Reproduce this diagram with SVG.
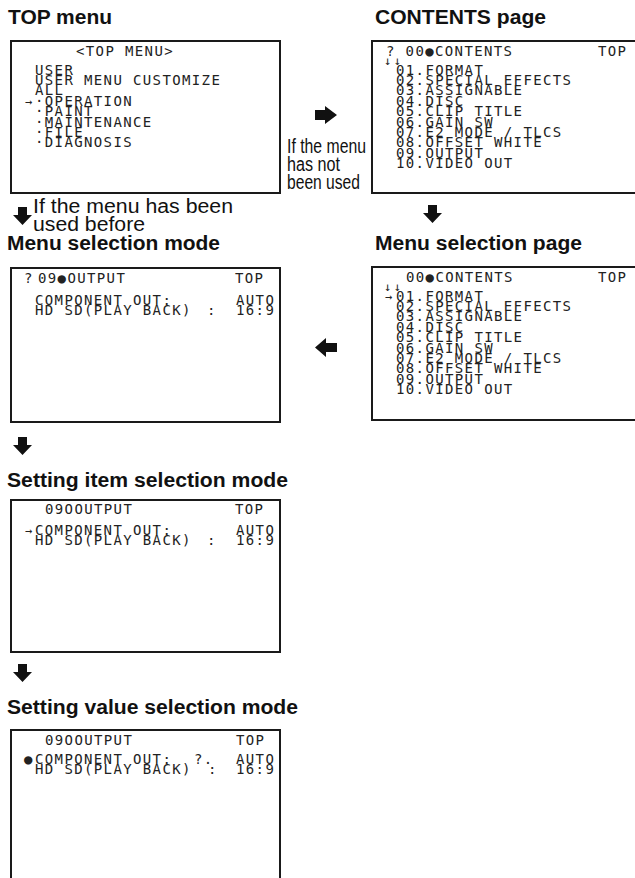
<svg xmlns="http://www.w3.org/2000/svg" xmlns:xlink="http://www.w3.org/1999/xlink" width="635" height="878" viewBox="0 0 635 878">
<style>
.bg{fill:#fff}
.box{fill:#fff;stroke:#1a1a1a;stroke-width:2}
.ttl{font-family:"Liberation Sans",Arial,sans-serif;font-weight:bold;font-size:20px;fill:#111}
.lbl{font-family:"Liberation Sans",Arial,sans-serif;font-size:19.5px;fill:#111}
.m{font-family:"DejaVu Sans Mono","Liberation Mono",monospace;font-size:14px;letter-spacing:1.37px;fill:#222}
.sm{font-family:"DejaVu Sans Mono","Liberation Mono",monospace;font-size:12px;fill:#222}
.arr{fill:#111}
</style>
<defs>
<path id="adown" d="M-4.5,0 H4.5 V8 H9.5 L0,18 L-9.5,8 H-4.5 Z"/>
</defs>
<rect class="bg" x="0" y="0" width="635" height="878"/>

<g id="top-menu">
<text class="ttl" x="8" y="24" textLength="104" lengthAdjust="spacingAndGlyphs">TOP menu</text>
<rect class="box" x="11" y="41" width="269" height="152"/>
<text class="m" x="76" y="56">&lt;TOP MENU&gt;</text>
<text class="m" x="35" y="74.5">USER</text>
<text class="m" x="35" y="84.9">USER MENU CUSTOMIZE</text>
<text class="m" x="35" y="95.3">ALL</text>
<text class="sm" x="25" y="105.7">→</text>
<text class="m" x="35" y="105.7">·OPERATION</text>
<text class="m" x="35" y="116.1">·PAINT</text>
<text class="m" x="35" y="126.5">·MAINTENANCE</text>
<text class="m" x="35" y="136.9">·FILE</text>
<text class="m" x="35" y="147.3">·DIAGNOSIS</text>
</g>

<g id="contents-page">
<text class="ttl" x="375" y="24" textLength="171" lengthAdjust="spacingAndGlyphs">CONTENTS page</text>
<rect class="box" x="372" y="41" width="268" height="152"/>
<text class="m" x="386" y="56">? 00●CONTENTS</text>
<text class="m" x="598" y="56">TOP</text>
<text class="sm" x="384" y="64.5" letter-spacing="2.6">↓↓</text>
<text class="m" x="396" y="74.5">01.FORMAT</text>
<text class="m" x="396" y="84.9">02.SPECIAL EFFECTS</text>
<text class="m" x="396" y="95.3">03.ASSIGNABLE</text>
<text class="m" x="396" y="105.7">04.DISC</text>
<text class="m" x="396" y="116.1">05.CLIP TITLE</text>
<text class="m" x="396" y="126.5">06.GAIN SW</text>
<text class="m" x="396" y="136.9">07.E2 MODE / TLCS</text>
<text class="m" x="396" y="147.3">08.OFFSET WHITE</text>
<text class="m" x="396" y="157.7">09.OUTPUT</text>
<text class="m" x="396" y="168.1">10.VIDEO OUT</text>
</g>

<g id="menu-selection-mode">
<text class="ttl" x="7" y="250" textLength="213" lengthAdjust="spacingAndGlyphs">Menu selection mode</text>
<rect class="box" x="11" y="268" width="269" height="154"/>
<text class="m" x="24" y="283" font-size="12">?</text>
<text class="m" x="38" y="283">09●OUTPUT</text>
<text class="m" x="235" y="283">TOP</text>
<text class="m" x="35" y="305">COMPONENT OUT:</text>
<text class="m" x="236" y="305">AUTO</text>
<text class="m" x="35" y="315">HD SD(PLAY BACK)</text>
<text class="m" x="207" y="315">:</text>
<text class="m" x="236" y="315">16:9</text>
</g>

<g id="menu-selection-page">
<text class="ttl" x="375" y="250" textLength="207" lengthAdjust="spacingAndGlyphs">Menu selection page</text>
<rect class="box" x="372" y="267" width="268" height="153"/>
<text class="m" x="406" y="282">00●CONTENTS</text>
<text class="m" x="598" y="282">TOP</text>
<text class="sm" x="384" y="290.5" letter-spacing="2.6">↓↓</text>
<text class="sm" x="385" y="300.5">→</text>
<text class="m" x="396" y="300.5">01.FORMAT</text>
<text class="m" x="396" y="310.9">02.SPECIAL EFFECTS</text>
<text class="m" x="396" y="321.3">03.ASSIGNABLE</text>
<text class="m" x="396" y="331.7">04.DISC</text>
<text class="m" x="396" y="342.1">05.CLIP TITLE</text>
<text class="m" x="396" y="352.5">06.GAIN SW</text>
<text class="m" x="396" y="362.9">07.E2 MODE / TLCS</text>
<text class="m" x="396" y="373.3">08.OFFSET WHITE</text>
<text class="m" x="396" y="383.7">09.OUTPUT</text>
<text class="m" x="396" y="394.1">10.VIDEO OUT</text>
</g>

<g id="setting-item-selection-mode">
<text class="ttl" x="7" y="487" textLength="281" lengthAdjust="spacingAndGlyphs">Setting item selection mode</text>
<rect class="box" x="11" y="500" width="269" height="152"/>
<text class="m" x="45" y="514">09OOUTPUT</text>
<text class="m" x="235" y="514">TOP</text>
<text class="sm" x="25" y="535">→</text>
<text class="m" x="35" y="535">COMPONENT OUT:</text>
<text class="m" x="236" y="535">AUTO</text>
<text class="m" x="35" y="545">HD SD(PLAY BACK)</text>
<text class="m" x="207" y="545">:</text>
<text class="m" x="236" y="545">16:9</text>
</g>

<g id="setting-value-selection-mode">
<text class="ttl" x="7" y="714" textLength="291" lengthAdjust="spacingAndGlyphs">Setting value selection mode</text>
<rect class="box" x="11" y="730" width="269" height="160"/>
<text class="m" x="45" y="745">09OOUTPUT</text>
<text class="m" x="236" y="745">TOP</text>
<text class="m" x="24" y="764" letter-spacing="0">●</text>
<text class="m" x="35" y="764">COMPONENT OUT:</text>
<text class="m" x="194" y="764" letter-spacing="0.5">?.</text>
<text class="m" x="236" y="764">AUTO</text>
<text class="m" x="35" y="774">HD SD(PLAY BACK)</text>
<text class="m" x="208" y="774">:</text>
<text class="m" x="236" y="774">16:9</text>
</g>

<g id="connectors">
<path class="arr" d="M315,110 H325 V106 L337,115 L325,124 V120 H315 Z"/>
<text class="lbl" x="287" y="153" textLength="79" lengthAdjust="spacingAndGlyphs">If the menu</text>
<text class="lbl" x="287" y="171" textLength="53" lengthAdjust="spacingAndGlyphs">has not</text>
<text class="lbl" x="287" y="189" textLength="73" lengthAdjust="spacingAndGlyphs">been used</text>
<use xlink:href="#adown" class="arr" x="22.5" y="207"/>
<text class="lbl" x="33" y="213" textLength="200" lengthAdjust="spacingAndGlyphs">If the menu has been</text>
<text class="lbl" x="33" y="231" textLength="112" lengthAdjust="spacingAndGlyphs">used before</text>
<use xlink:href="#adown" class="arr" x="432.5" y="205"/>
<path class="arr" d="M337,343 H326 V338 L315,347.5 L326,357 V352 H337 Z"/>
<use xlink:href="#adown" class="arr" x="22.5" y="437"/>
<use xlink:href="#adown" class="arr" x="22.5" y="664"/>
</g>
</svg>
